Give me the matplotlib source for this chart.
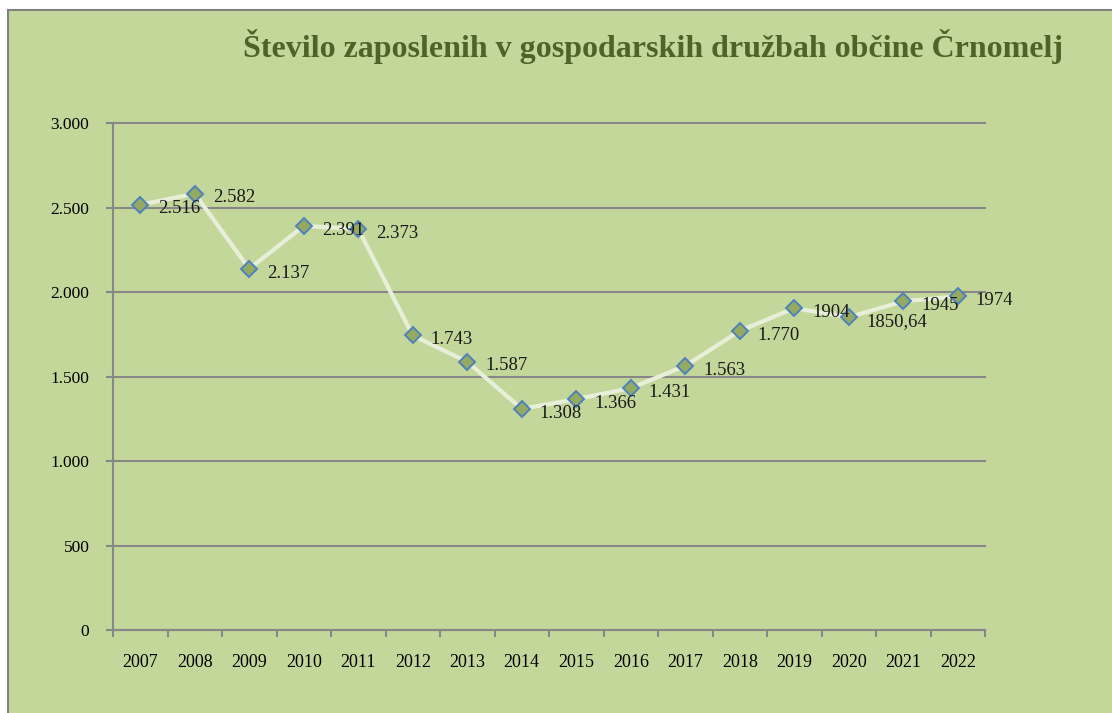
import matplotlib
matplotlib.use("Agg")
import matplotlib.pyplot as plt
from matplotlib.patches import Rectangle

# data
years = ['2007', '2008', '2009', '2010', '2011', '2012', '2013', '2014',
         '2015', '2016', '2017', '2018', '2019', '2020', '2021', '2022']
employees = [2516, 2582, 2137, 2391, 2373, 1743, 1587, 1308,
             1366, 1431, 1563, 1770, 1904, 1850.64, 1945, 1974]
point_labels = ['2.516', '2.582', '2.137', '2.391', '2.373', '1.743', '1.587', '1.308',
                '1.366', '1.431', '1.563', '1.770', '1904', '1850,64', '1945', '1974']
y_ticks = [0, 500, 1000, 1500, 2000, 2500, 3000]
y_tick_labels = ['0', '500', '1.000', '1.500', '2.000', '2.500', '3.000']

W, H = 1112, 713
bg = '#c4d79b'
grid_col = '#878787'
serif = ['Liberation Serif', 'DejaVu Serif']

fig = plt.figure(figsize=(W / 100, H / 100), dpi=100)
fig.patch.set_facecolor('white')

# green chart frame, cut off at right and bottom
fig.patches.append(Rectangle((8 / W, -0.1), 1.2, (H - 10) / H + 0.1,
                             transform=fig.transFigure, facecolor=bg,
                             edgecolor='#808080', linewidth=1.5, zorder=-1))

ax = fig.add_axes([113 / W, 1 - 630 / H, (985 - 113) / W, (630 - 123) / H])
ax.set_facecolor('none')
ax.set_zorder(1)

x = list(range(len(years)))
ax.plot(x, employees, color='#e8efd8', linewidth=3, zorder=3)
ax.plot(x, employees, linestyle='none', marker='D', markersize=8.5,
        markerfacecolor='#94aa60', markeredgecolor='#4f81bd',
        markeredgewidth=1.4, zorder=4)

for xi, yi, lab in zip(x, employees, point_labels):
    ax.annotate(lab, (xi, yi), xytext=(13, -3), textcoords='offset points',
                ha='left', va='center', fontsize=13.5, family=serif,
                color='#1a1a1a', zorder=5)

ax.set_xlim(-0.5, len(years) - 0.5)
ax.set_ylim(0, 3000)
ax.set_yticks(y_ticks)
ax.set_yticklabels(y_tick_labels, family=serif, fontsize=12.5)
ax.set_xticks(x)
ax.set_xticklabels(years, family=serif, fontsize=13)
ax.set_xticks([i - 0.5 for i in range(len(years) + 1)], minor=True)

ax.tick_params(axis='x', which='major', length=0, pad=17)
ax.tick_params(axis='x', which='minor', length=5, width=1.5, color=grid_col,
               direction='out')
ax.tick_params(axis='y', length=5, width=1.5, color=grid_col, pad=12)

ax.yaxis.grid(True, color=grid_col, linewidth=1.5)
for gl in ax.get_ygridlines():
    gl.set_clip_on(False)
ax.set_axisbelow(True)
for side in ['top', 'right']:
    ax.spines[side].set_visible(False)
for side in ['left', 'bottom']:
    ax.spines[side].set_color(grid_col)
    ax.spines[side].set_linewidth(1.5)

fig.text(243 / W, 1 - 57 / H,
         'Število zaposlenih v gospodarskih družbah občine Črnomelj',
         ha='left', va='baseline', fontsize=23, fontweight='bold',
         family=serif, color='#4f6228')

fig.savefig('out.png', dpi=100)
